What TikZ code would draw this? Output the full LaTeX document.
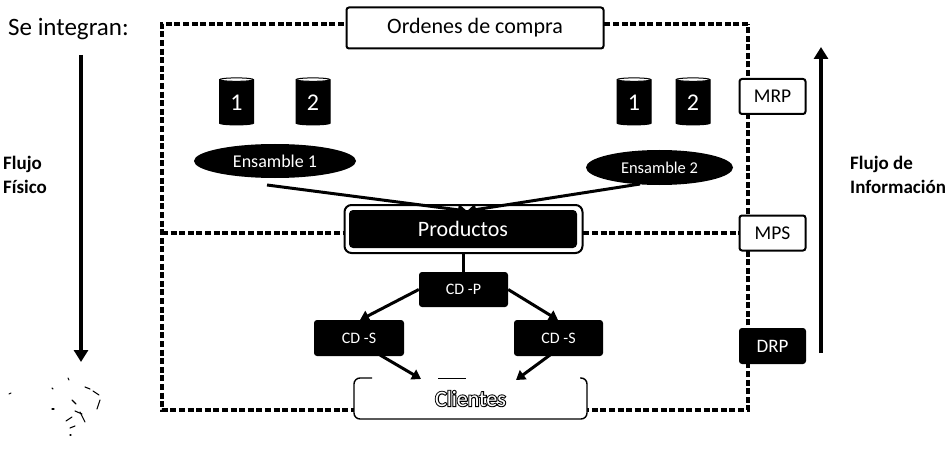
\documentclass[tikz,border=0pt]{standalone}
\usepackage{fontspec}
\setmainfont{Carlito}
\newfontfamily\heavyclient[FakeBold=9]{Carlito}
\usetikzlibrary{shapes.geometric,arrows.meta,calc}
\tikzset{
  frameline/.style={line width=3.2pt,dash pattern=on 6pt off 2.6pt},
  flow/.style={line width=4pt,-{Triangle[length=12pt,width=14pt]}},
  feed/.style={line width=3pt,-{Triangle[length=9pt,width=11pt]}},
  blackbox/.style={rectangle,rounded corners=3pt,fill=black,text=white,inner sep=0pt,anchor=center},
  whitebox/.style={rectangle,rounded corners=2.5pt,draw=black,line width=2pt,fill=white,inner sep=0pt},
  drum/.style={cylinder,shape border rotate=90,aspect=0.28,draw=black,line width=1pt,cylinder uses custom fill,cylinder body fill=black,cylinder end fill=white,text=white,minimum width=34pt,minimum height=47pt,inner sep=0pt,font=\fontsize{24}{24}\selectfont},
  blob/.style={ellipse,fill=black,text=white,inner sep=0pt},
  sidelabel/.style={anchor=west,align=left,font=\bfseries\fontsize{19}{24}\selectfont,inner sep=0pt},
  speck/.style={line width=1.1pt,line cap=round},
}
\begin{document}
\begin{tikzpicture}[x=1pt,y=-1pt]
\useasboundingbox (0,0) rectangle (949,449);
% text
\node[anchor=west,inner sep=0pt,font=\fontsize{25}{26}\selectfont] (title) at (8,29) {Se integran:};
\node[sidelabel] (fisico) at (3,175) {Flujo\\Físico};
\node[sidelabel] (info) at (850,175) {Flujo de\\Información};
% flow arrows
\coordinate (leftTop) at (81,55);
\coordinate (leftEnd) at (81,362);
\coordinate (rightBot) at (821,353);
\coordinate (rightEnd) at (821,47);
\draw[flow] (leftTop) -- (leftEnd);
\draw[flow] (rightBot) -- (rightEnd);
% dashed frame (behind the boxes)
\coordinate (frameTL) at (162,24);
\coordinate (frameBL) at (162,410);
\coordinate (frameTR) at (748,24);
\coordinate (frameBR) at (748,410);
\coordinate (frameML) at (162,233);
\coordinate (frameMR) at (748,233);
\draw[frameline] (frameTR) -- (frameTL) -- (frameBL) -- (frameBR) -- (frameTR);
\draw[frameline] (frameML) -- (frameMR);
% nodes
\node[whitebox,minimum width=257pt,minimum height=41pt,font=\fontsize{22}{24}\selectfont] (ordenes) at (475,28) {Ordenes de compra};
\node[whitebox,minimum width=66pt,minimum height=35pt,font=\fontsize{19.5}{20}\selectfont] (mrp) at (772.5,96.5) {MRP};
\node[whitebox,minimum width=66pt,minimum height=35pt,font=\fontsize{19.5}{20}\selectfont] (mps) at (772.5,233) {MPS};
\node[blackbox,minimum width=67pt,minimum height=36pt,font=\fontsize{19}{20}\selectfont] (drp) at (772.5,346) {DRP};
\node[drum] (c1) at (236.5,102.5) {1};
\node[drum] (c2) at (313,102.5) {2};
\node[drum] (c3) at (634,102.5) {1};
\node[drum] (c4) at (693,102.5) {2};
\node[blob,minimum width=162pt,minimum height=34pt,font=\fontsize{18}{20}\selectfont] (e1) at (275,161) {Ensamble 1};
\node[blob,minimum width=147pt,minimum height=35pt,font=\fontsize{16.5}{18}\selectfont] (e2) at (659.5,167.5) {Ensamble 2};
\node[whitebox,rounded corners=7pt,minimum width=238pt,minimum height=48pt] (prodframe) at (463.5,229) {};
\node[blackbox,rounded corners=4pt,minimum width=228pt,minimum height=38pt,font=\fontsize{22}{24}\selectfont] (prod) at (463,229) {Productos};
\node[blackbox,minimum width=89pt,minimum height=35pt,font=\fontsize{16}{18}\selectfont] (cdp) at (463.5,289.5) {CD -P};
\node[blackbox,minimum width=90pt,minimum height=36pt,font=\fontsize{16}{18}\selectfont] (cdsl) at (359,338) {CD -S};
\node[blackbox,minimum width=89pt,minimum height=36pt,font=\fontsize{16}{18}\selectfont] (cdsr) at (558.5,338) {CD -S};
% Clientes: white panel, broken top edge, solid other edges
\node[fill=white,rounded corners=6pt,minimum width=233pt,minimum height=41pt,inner sep=0pt,font=\fontsize{22}{24}\selectfont] (clientes) at (470.5,398.5)
 {\rlap{\heavyclient\color{black}Clientes}\textcolor{white}{Clientes}};
\coordinate (clNW) at (354,378);
\coordinate (clSW) at (354,419);
\coordinate (clSE) at (587,419);
\coordinate (clNE) at (587,378);
\draw[line width=1.4pt,rounded corners=6pt] ($(clNW)+(18,0)$) -- (clNW) -- (clSW) -- (clSE) -- (clNE) -- ($(clNE)+(-7,0)$);
\coordinate (cltopa) at ($(clNW)+(84,0)$);
\coordinate (cltopb) at ($(clNW)+(112,0)$);
\draw[line width=1pt] (cltopa) -- (cltopb);
% arrows
\coordinate (intoL) at (467,211);
\coordinate (intoR) at (467,211);
\coordinate (e1out) at (267,185);
\coordinate (e2out) at (640,184);
\draw[feed] (e1out) -- (intoL);
\draw[feed] (e2out) -- (intoR);
\draw[line width=2.6pt] (prodframe.south -| cdp.north) -- (cdp.north);
\draw[feed] (cdp.west) -- (360,320);
\draw[feed] (cdp.east) -- (558,320);
\draw[feed] (380,355) -- (421,379);
\draw[feed] (550,355) -- (516,380);
% scan specks
\foreach \a/\b/\c/\d in {68/378/69/380, 52/388/53/389, 85/387/90/389, 93/391/99/395, 100/400/97/409, 72/400/76/404, 9/394/11/393, 52/409/54/409, 75/411/82/414, 66/421/72/417, 70/428/75/426, 70/435/71/435, 80/412/85/422}
  \draw[speck] (\a,\b) -- (\c,\d);
\end{tikzpicture}
\end{document}
